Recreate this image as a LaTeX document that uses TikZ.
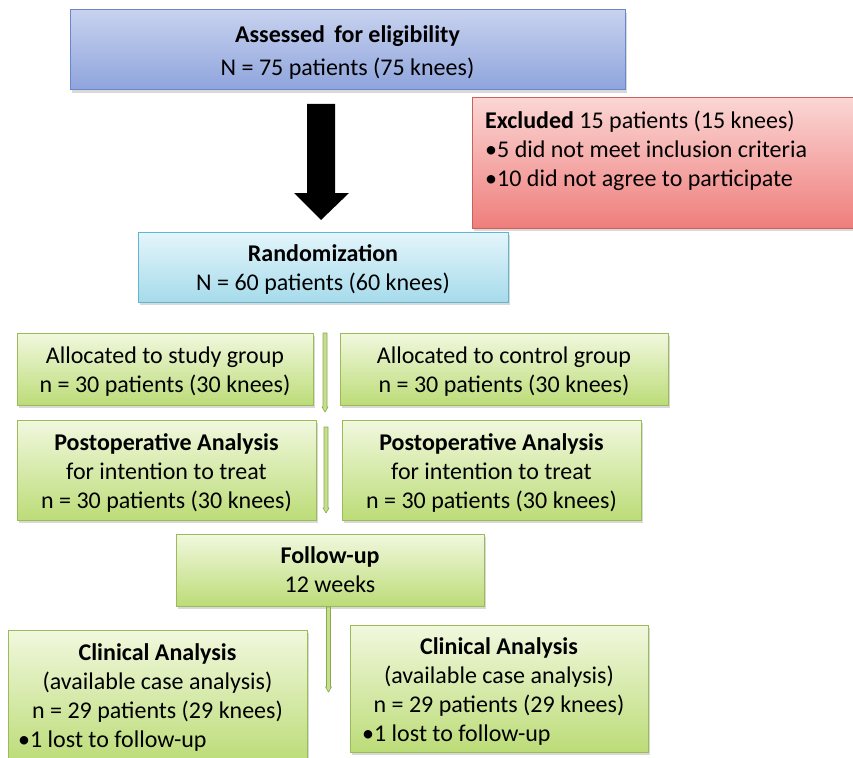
\documentclass[tikz,border=0pt]{standalone}
\usepackage{fontspec}
\setmainfont{Carlito}
\usetikzlibrary{shadows}
\definecolor{blueT}{HTML}{C8D2EF}
\definecolor{blueB}{HTML}{8EA4DC}
\definecolor{blueD}{HTML}{6A87CC}
\definecolor{redT}{HTML}{FAD6D4}
\definecolor{redB}{HTML}{EF7E7C}
\definecolor{redD}{HTML}{C9605C}
\definecolor{lbT}{HTML}{E4F5FB}
\definecolor{lbB}{HTML}{A6DBEB}
\definecolor{lbD}{HTML}{62B5CF}
\definecolor{grT}{HTML}{F1F8DE}
\definecolor{grB}{HTML}{BCDC78}
\definecolor{grD}{HTML}{9BBB59}
\definecolor{barIn}{HTML}{C5E08C}
\newcommand\grnarrow[2]{%
  \filldraw[fill=barIn, draw=grD!90!black, line width=0.6pt, line join=round]
    (#1) ++(-2,0) -- ++(4,0) -- ++(0,#2-5) -- ++(1,0) -- ++(-3,5)
    -- ++(-3,-5) -- ++(1,0) -- cycle;}
\begin{document}
\begin{tikzpicture}[x=1pt,y=-1pt,
  box/.style={draw, line width=1pt, inner sep=0pt,
    drop shadow={shadow xshift=2pt, shadow yshift=-3pt, opacity=0.3}},
  bluebox/.style={box, draw=blueD, top color=blueT, bottom color=blueB},
  redbox/.style={box, draw=redD, top color=redT, bottom color=redB},
  lbbox/.style={box, draw=lbD, top color=lbT, bottom color=lbB},
  greenbox/.style={box, draw=grD, top color=grT, bottom color=grB},
  txt/.style={font=\fontsize{24}{29}\selectfont, align=center, inner sep=0pt},
  lefttext/.style={font=\fontsize{24}{29}\selectfont, align=left, inner sep=0pt}
]
\useasboundingbox (0,0) rectangle (853,757);

% boxes
\node[bluebox, minimum width=555pt, minimum height=80pt] (assess) at (347.5,50) {};
\node[redbox, minimum width=390pt, minimum height=130pt] (excl) at (667,163) {};
\node[lbbox, minimum width=370pt, minimum height=70pt] (rand) at (323,267) {};
\node[greenbox, minimum width=296pt, minimum height=72pt] (allocL) at (165,369) {};
\node[greenbox, minimum width=328pt, minimum height=72pt] (allocR) at (504,369) {};
\node[greenbox, minimum width=299pt, minimum height=100pt] (postL) at (166.5,470) {};
\node[greenbox, minimum width=299pt, minimum height=100pt] (postR) at (491.5,470) {};
\node[greenbox, minimum width=308pt, minimum height=72pt] (follow) at (330,570) {};
\node[greenbox, minimum width=299pt, minimum height=132pt] (clinL) at (157.5,696) {};
\node[greenbox, minimum width=298pt, minimum height=127pt] (clinR) at (499,688.5) {};

% texts
\node[txt, font=\fontsize{24}{33}\selectfont] (assessT) at (347.5,53)
  {\textbf{Assessed\, for eligibility}\\N = 75 patients (75 knees)};
\node[lefttext, anchor=north west] (exclT) at (485,111)
  {\textbf{Excluded} 15 patients (15 knees)\\•5 did not meet inclusion criteria\\•10 did not agree to participate};
\node[txt] (randT) at (323,269.5)
  {\textbf{Randomization}\\N = 60 patients (60 knees)};
\node[txt] (allocLT) at (165,372)
  {Allocated to study group\\n = 30 patients (30 knees)};
\node[txt] (allocRT) at (504,372)
  {Allocated to control group\\n = 30 patients (30 knees)};
\node[txt] (postLT) at (166.5,473)
  {\textbf{Postoperative Analysis}\\for intention to treat\\n = 30 patients (30 knees)};
\node[txt] (postRT) at (491.5,473)
  {\textbf{Postoperative Analysis}\\for intention to treat\\n = 30 patients (30 knees)};
\node[txt] (followT) at (330,569.5)
  {\textbf{Follow-up}\\12 weeks};
\node[txt] (clinLT) at (157.5,683)
  {\textbf{Clinical Analysis}\\(available case analysis)\\n = 29 patients (29 knees)};
\node[lefttext, anchor=west] (clinLB) at (18,741) {•1 lost to follow-up};
\node[txt] (clinRT) at (499,677)
  {\textbf{Clinical Analysis}\\(available case analysis)\\n = 29 patients (29 knees)};
\node[lefttext, anchor=west] (clinRB) at (362,735) {•1 lost to follow-up};

% big arrow
\coordinate (arrS) at (321,104);
\fill[black] (arrS) ++(-14,0) -- ++(28,0) -- ++(0,89) -- ++(14,0)
  -- ++(-28,27) -- ++(-27,-27) -- ++(13,0) -- cycle;

% thin green arrows
\coordinate (b1s) at (325,333);
\coordinate (b2s) at (326,427);
\coordinate (b3s) at (328.5,607);
\grnarrow{b1s}{79}
\grnarrow{b2s}{86}
\grnarrow{b3s}{85}
\end{tikzpicture}
\end{document}
